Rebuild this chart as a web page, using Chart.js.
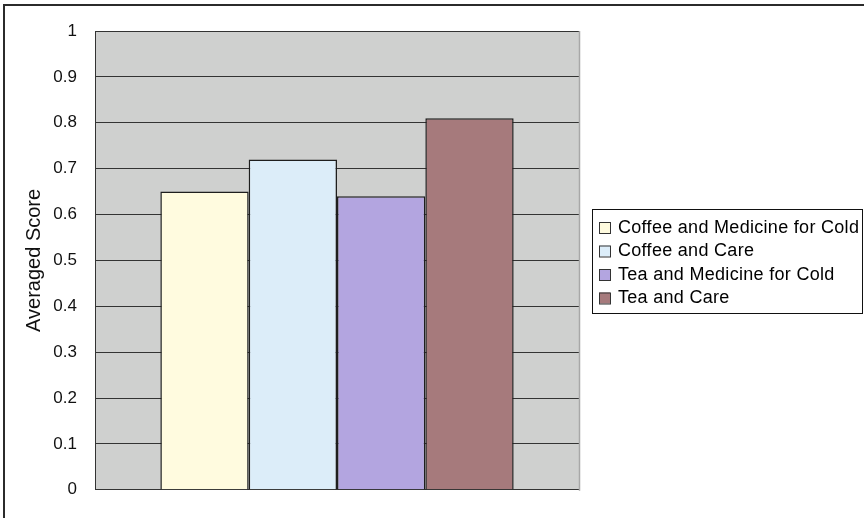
<!DOCTYPE html>
<html>
<head>
<meta charset="utf-8">
<script src="https://cdn.jsdelivr.net/npm/chart.js@4/dist/chart.umd.min.js"></script>
<style>
  html, body { margin: 0; padding: 0; background: #fff; }
  canvas { display: block; }
</style>
</head>
<body>
<canvas id="scores" width="864" height="518"></canvas>
<script>
const categories = [''];
const seriesNames = [
  'Coffee and Medicine for Cold',
  'Coffee and Care',
  'Tea and Medicine for Cold',
  'Tea and Care',
];
const seriesValues = [0.65, 0.72, 0.64, 0.81];
const seriesColors = ['#FFFBDF', '#DCEDF9', '#B3A5E0', '#A67A7C'];
const tickLabels = ['0', '0.1', '0.2', '0.3', '0.4', '0.5', '0.6', '0.7', '0.8', '0.9', '1'];

const FONT = '"Liberation Sans", Arial, sans-serif';

// grey plot area, outer frame and the boxed legend on the right
const frame = {
  id: 'frame',
  beforeDraw(chart) {
    const { ctx, chartArea: { left, top, width, height } } = chart;
    ctx.save();
    ctx.fillStyle = '#CFD0CF';
    ctx.fillRect(left, top, width, height);
    ctx.strokeStyle = '#2b2b2b';
    ctx.lineWidth = 2;
    ctx.strokeRect(4, 5, 1000, 1000);
    ctx.restore();
  },
  afterDraw(chart) {
    const { ctx, chartArea: { right, top, bottom } } = chart;
    ctx.save();
    ctx.strokeStyle = '#A8A8A8';
    ctx.lineWidth = 1.5;
    ctx.beginPath();
    ctx.moveTo(right + 0.5, top);
    ctx.lineTo(right + 0.5, bottom + 1);
    ctx.stroke();

    // legend
    ctx.strokeStyle = '#111';
    ctx.lineWidth = 1;
    ctx.strokeRect(592.5, 209.5, 270, 104);
    ctx.font = '18px ' + FONT;
    ctx.letterSpacing = '0.3px';
    ctx.textBaseline = 'middle';
    chart.data.datasets.forEach((ds, i) => {
      const cy = 227 + i * 23.5;
      ctx.fillStyle = ds.backgroundColor;
      ctx.fillRect(599, cy - 5, 11, 11);
      ctx.strokeStyle = '#333';
      ctx.strokeRect(599.5, cy - 4.5, 11, 11);
      ctx.fillStyle = '#000';
      ctx.fillText(ds.label, 618, cy + 1);
    });
    ctx.restore();
  },
};

const chart = new Chart(document.getElementById('scores'), {
  type: 'bar',
  data: {
    labels: categories,
    datasets: seriesNames.map((name, i) => ({
      label: name,
      data: [seriesValues[i]],
      backgroundColor: seriesColors[i],
      borderColor: '#1e1e1e',
      borderWidth: 1.5,
      barPercentage: 1,
      categoryPercentage: 0.73,
    })),
  },
  options: {
    responsive: false,
    animation: false,
    devicePixelRatio: 1,
    layout: {
      padding: { left: 0, top: 31, right: 285, bottom: 26 },
    },
    plugins: {
      legend: { display: false },
      tooltip: { enabled: false },
    },
    scales: {
      x: {
        display: false,
      },
      y: {
        min: 0,
        max: 1,
        afterFit(scale) {
          scale.width = 95;
        },
        ticks: {
          stepSize: 0.1,
          padding: 18,
          color: '#111',
          font: { family: FONT, size: 17 },
          callback: (value, index) => tickLabels[index],
        },
        grid: {
          color: '#333',
          lineWidth: 1,
          drawTicks: false,
        },
        border: {
          color: '#333',
          width: 1,
        },
        title: {
          display: true,
          text: 'Averaged Score',
          color: '#111',
          font: { family: FONT, size: 20 },
          padding: { top: 22, bottom: 0 },
        },
      },
    },
  },
  plugins: [frame],
});
</script>
</body>
</html>
